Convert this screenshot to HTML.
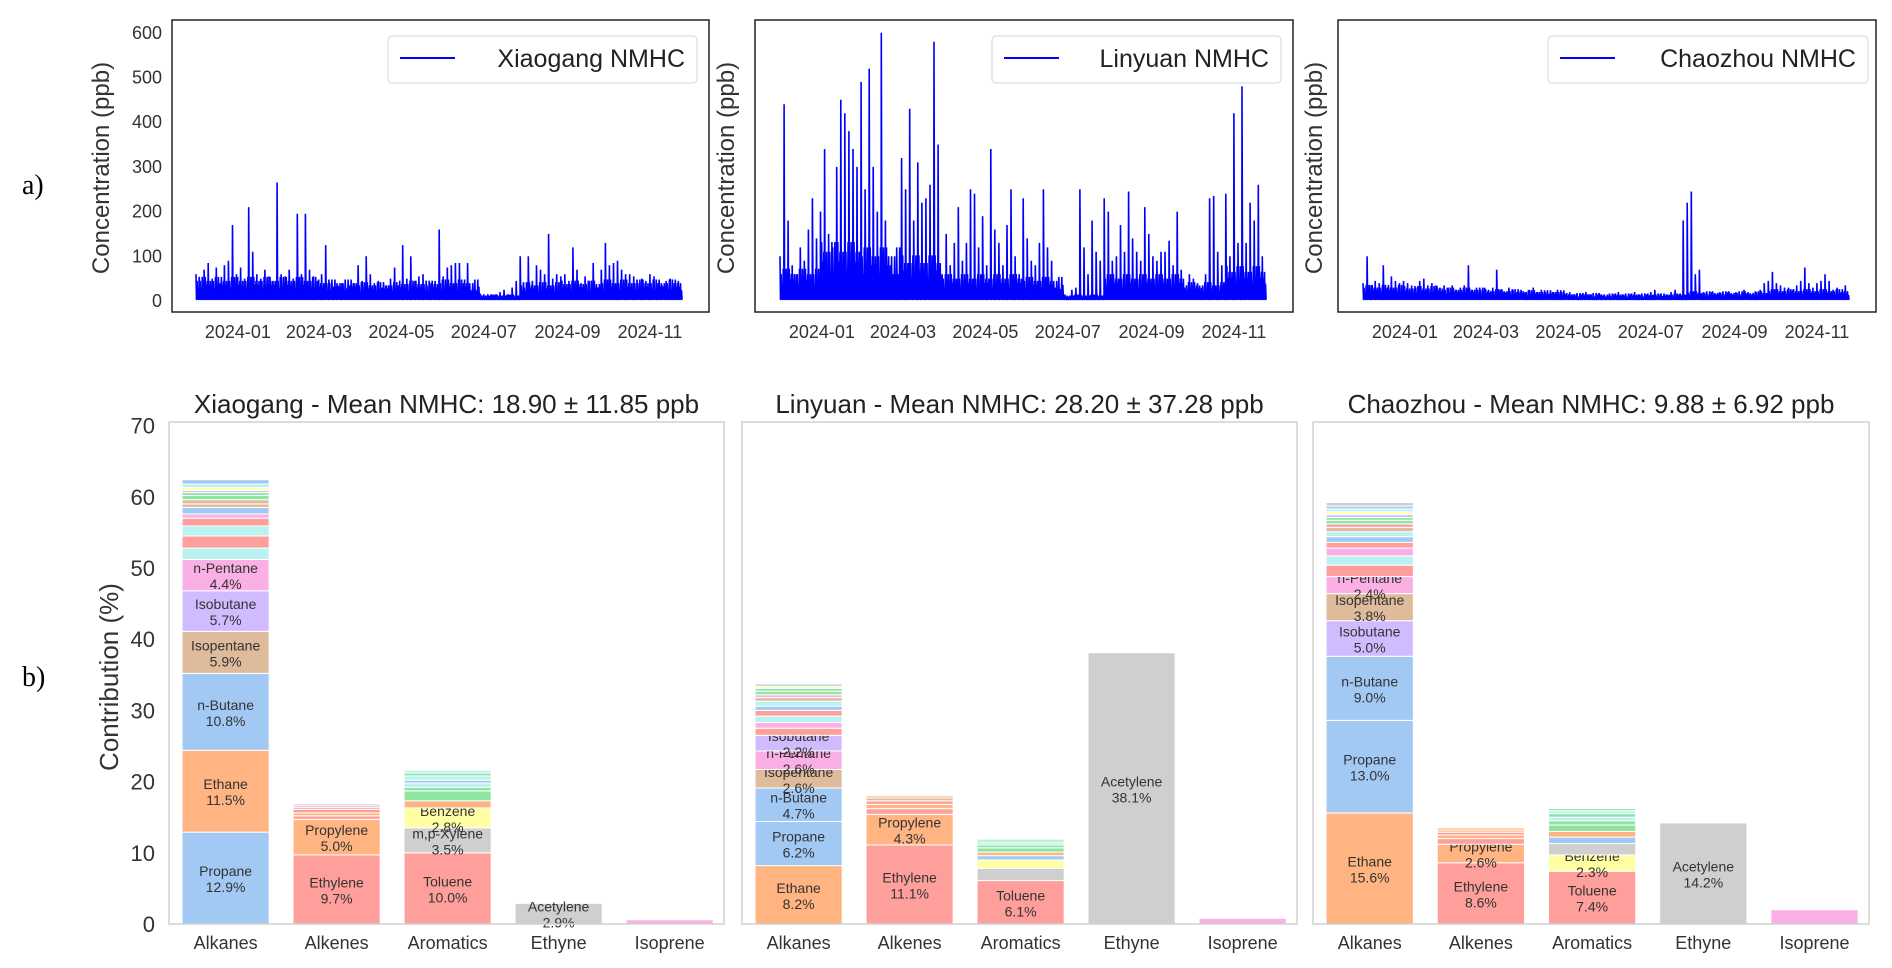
<!DOCTYPE html>
<html><head><meta charset="utf-8">
<style>
html,body{margin:0;padding:0;background:#fff;}
svg{display:block;font-family:"Liberation Sans",Arial,sans-serif;}
</style></head>
<body>
<svg id="fig" width="1892" height="968" viewBox="0 0 1892 968" xmlns="http://www.w3.org/2000/svg">
<text x="22" y="194" font-family="Liberation Serif,serif" font-size="28" fill="#000">a)</text>
<text x="22" y="686" font-family="Liberation Serif,serif" font-size="28" fill="#000">b)</text>
</svg>
<script>
// ---------- time series data (3-day peak values, ppb), Dec 2023 -> Nov 2024 ----------
const xgPeaks=[60,45,70,85,50,75,40,80,90,170, 60,75,50,210,110,60,50,70,55,45, 265,60,55,70,50,195,60,195,70,55, 45,60,125,40,30,35,40,30,35,40, 80,45,100,60,40,45,30,35,50,75, 35,125,50,100,45,55,60,35,40,45, 160,55,75,80,85,85,40,85,20,15, 18,15,15,15,15,20,25,15,30,45, 100,30,100,45,80,70,60,150,50,60, 55,60,45,120,70,40,55,45,85,30, 70,130,80,85,90,70,60,60,55,40, 50,45,60,55,40,35,45,50,40,45];
const lyPeaks=[100,440,180,80,60,120,90,160,230,140, 200,340,150,120,300,450,420,380,340,300, 490,250,520,300,200,600,180,50,40,60, 320,250,430,180,310,220,230,260,580,350, 60,150,80,130,210,90,130,250,240,120, 190,80,340,160,130,80,170,250,100,60, 230,140,90,80,130,250,120,90,30,20, 15,10,25,30,250,120,60,180,110,90, 230,200,90,100,170,110,245,140,110,90, 210,150,100,90,110,110,135,80,200,70, 10,60,50,40,30,60,230,235,110,80, 240,100,420,130,480,130,220,180,260,100];
const czPeaks=[40,100,35,45,40,80,30,55,45,40, 45,40,35,30,45,50,35,40,35,30, 35,30,35,25,30,35,80,25,30,25, 30,25,30,70,25,20,30,25,20,25, 20,25,30,20,25,20,15,20,25,20, 15,20,15,10,15,20,15,10,15,12, 10,12,15,20,15,10,15,20,15,10, 15,20,25,15,10,15,20,25,15,180, 220,245,60,70,20,15,20,15,20,15, 20,15,20,15,25,20,15,20,25,40, 45,65,40,35,30,30,25,35,45,75, 40,30,40,45,60,45,25,30,20,35];
// monthly typical (base) levels, Dec..Nov
const xgBase=[45,45,45,40,35,38,40,12,35,38,40,40];
const lyBase=[60,110,100,85,50,50,45,12,50,50,35,65];
const czBase=[30,28,25,22,20,15,14,14,18,18,22,22];
const yTicksTop=[0,100,200,300,400,500,600];
const xTickLabels=["2024-01","2024-03","2024-05","2024-07","2024-09","2024-11"];
const xTickDays=[31,91,152,213,275,336]; // days since 2023-12-01
const stationNames=["Xiaogang","Linyuan","Chaozhou"];

// ---------- composition data ----------
const categories=["Alkanes","Alkenes","Aromatics","Ethyne","Isoprene"];
const yTicksBottom=[0,10,20,30,40,50,60,70];
const means=["18.90 ± 11.85","28.20 ± 37.28","9.88 ± 6.92"];
const xgAlkVals=[12.9,11.5,10.8,5.9,5.7,4.4,1.6,1.7,1.4,1.1,0.6,0.9,0.5,0.6,0.6,0.4,0.3,0.4,0.5,0.6];
const xgAlkNames=["Propane","Ethane","n-Butane","Isopentane","Isobutane","n-Pentane"];
const xgAlkCols="BOBNPKCRCRKBNNGGPYCB";
const xgAleVals=[9.7,5.0,0.5,0.4,0.5,0.3,0.3,0.2];
const xgAleNames=["Ethylene","Propylene"];
const xgAleCols="ROROROPR";
const xgAroVals=[10.0,3.5,2.8,1.0,1.4,0.5,0.6,0.4,0.6,0.4,0.4];
const xgAroNames=["Toluene","m,p-Xylene","Benzene"];
const xgAroCols="RgYOGGCBCGC";
const xgEthVals=[2.9];const xgIsoVals=[0.6];

const lyAlkVals=[8.2,6.2,4.7,2.6,2.6,2.2,1.0,0.8,0.9,0.8,0.6,0.7,0.5,0.4,0.5,0.4,0.3,0.3];
const lyAlkNames=["Ethane","Propane","n-Butane","Isopentane","n-Pentane","Isobutane"];
const lyAlkCols="OBBNKPRKCRBCNKGGYB";
const lyAleVals=[11.1,4.3,0.8,0.6,0.5,0.4,0.3];
const lyAleNames=["Ethylene","Propylene"];
const lyAleCols="RORORNO";
const lyAroVals=[6.1,1.7,1.2,0.6,0.5,0.6,0.4,0.4,0.3,0.2];
const lyAroNames=["Toluene"];
const lyAroCols="RgYBOGGCGC";
const lyEthVals=[38.1];const lyIsoVals=[0.8];

const czAlkVals=[15.6,13.0,9.0,5.0,3.8,2.4,1.6,1.3,1.1,0.8,0.8,0.7,0.6,0.5,0.5,0.4,0.4,0.4,0.4,0.4,0.5];
const czAlkNames=["Ethane","Propane","n-Butane","Isobutane","Isopentane","n-Pentane"];
const czAlkCols="OBBPNKRCKRBCNRGGPYCBg";
const czAleVals=[8.6,2.6,0.8,0.5,0.4,0.3,0.3];
const czAleNames=["Ethylene","Propylene"];
const czAleCols="ROROROO";
const czAroVals=[7.4,2.3,1.6,0.9,0.8,0.9,0.6,0.5,0.5,0.4,0.3];
const czAroNames=["Toluene","Benzene"];
const czAroCols="RYgBOGGCGCG";
const czEthVals=[14.2];const czIsoVals=[2.0];

const palette={B:"#a1c9f4",O:"#ffb482",G:"#8de5a1",R:"#ff9f9b",P:"#d0bbff",N:"#debb9b",K:"#fab0e4",g:"#cfcfcf",Y:"#fffea3",C:"#b9f2f0"};

const NS="http://www.w3.org/2000/svg";
const svg=document.getElementById("fig");
function mk(tag,attrs,parent){const e=document.createElementNS(NS,tag);for(const k in attrs)e.setAttribute(k,attrs[k]);(parent||svg).appendChild(e);return e;}

// ---------- top panels ----------
const topPanels=[{x0:172,x1:709,day0:196,leg:[388,697],ylab:109},{x0:755,x1:1293,day0:780,leg:[992,1281],ylab:734},{x0:1338,x1:1876,day0:1363,leg:[1548,1868],ylab:1322}];
const peaksAll=[xgPeaks,lyPeaks,czPeaks];
const baseAll=[xgBase,lyBase,czBase];
const pxPerDay=1.351;
const mults=[1.0,0.6,1.2,0.8];
function yTop(v){return 301-v*0.447;}
topPanels.forEach((p,si)=>{
  const g=mk("g",{});
  
  
  const xDay=d=>p.day0+d*pxPerDay;
  const peaks=peaksAll[si], base=baseAll[si];
  let pts=[];
  const P=(d,v)=>pts.push(xDay(d).toFixed(1)+","+yTop(v).toFixed(1));
  peaks.forEach((v,i)=>{
    const d=i*3, b=base[Math.min(11,Math.floor(i/10))];
    const m1=mults[i%4], m2=mults[(i+1)%4], m3=mults[(i+2)%4];
    P(d,v);P(d+0.4,2);P(d+0.8,b*m1);P(d+1.2,3);P(d+1.6,b*m2);P(d+2.0,2);P(d+2.4,b*m3);P(d+2.8,3);
  });
  const line=mk("polyline",{points:pts.join(" "),fill:"none",stroke:"#0000ff","stroke-width":"1.6","stroke-linejoin":"miter"},g);
  
  
  const fr=mk("rect",{x:p.x0,y:20,width:p.x1-p.x0,height:292,fill:"none",stroke:"#222","stroke-width":"1.5"},g);
  
  
  if(si===0){
    yTicksTop.forEach(t=>{const tx=mk("text",{x:162,y:yTop(t)+6,"text-anchor":"end","font-size":"18",fill:"#333"},g);tx.textContent=t;
      
      });
  }
  xTickLabels.forEach((l,i)=>{const tx=mk("text",{x:xDay(xTickDays[i]),y:338,"text-anchor":"middle","font-size":"18",fill:"#333"},g);tx.textContent=l;
    
    });
  const yl=mk("text",{x:p.ylab,y:168,"text-anchor":"middle","font-size":"24",fill:"#333",transform:`rotate(-90 ${p.ylab} 168)`},g);
  yl.textContent="Concentration (ppb)";
  
  
  const lg=mk("g",{},g);
  
  
  mk("rect",{x:p.leg[0],y:36,width:p.leg[1]-p.leg[0],height:47,rx:4,fill:"#fff",stroke:"#ddd","stroke-width":"1.2"},lg);
  mk("line",{x1:p.leg[0]+12,x2:p.leg[0]+67,y1:58,y2:58,stroke:"#0000ff","stroke-width":"2"},lg);
  const lt=mk("text",{x:p.leg[1]-12,y:67,"text-anchor":"end","font-size":"25",fill:"#222"},lg);
  lt.textContent=stationNames[si]+" NMHC";
  
  
});

// ---------- bottom panels ----------
const botPanels=[{x0:169,x1:724},{x0:742,x1:1297},{x0:1313,x1:1869}];
const stationBars=[
 [[xgAlkVals,xgAlkNames,xgAlkCols],[xgAleVals,xgAleNames,xgAleCols],[xgAroVals,xgAroNames,xgAroCols],[xgEthVals,["Acetylene"],"g"],[xgIsoVals,[],"K"]],
 [[lyAlkVals,lyAlkNames,lyAlkCols],[lyAleVals,lyAleNames,lyAleCols],[lyAroVals,lyAroNames,lyAroCols],[lyEthVals,["Acetylene"],"g"],[lyIsoVals,[],"K"]],
 [[czAlkVals,czAlkNames,czAlkCols],[czAleVals,czAleNames,czAleCols],[czAroVals,czAroNames,czAroCols],[czEthVals,["Acetylene"],"g"],[czIsoVals,[],"K"]]
];
function yBot(v){return 924-v*7.12;}
botPanels.forEach((p,si)=>{
  const g=mk("g",{});
  
  
  const w=p.x1-p.x0;
  const slot=w*0.2, bw=w*0.157, off=w*0.0235;
  stationBars[si].forEach((bar,ci)=>{
    const [vals,names,cols]=bar;
    const bx=p.x0+off+ci*slot;
    let cum=0;
    vals.forEach((v,k)=>{
      const r=mk("rect",{x:bx,y:yBot(cum+v),width:bw,height:Math.max(0,yBot(cum)-yBot(cum+v)),fill:palette[cols[k]]||"#ccc",stroke:"#fff","stroke-width":"1"},g);
      
      
      if(v>2.0&&names[k]){
        const cy=(yBot(cum)+yBot(cum+v))/2;
        const t1=mk("text",{x:bx+bw/2,y:cy-2,"text-anchor":"middle","font-size":"14",fill:"#333"},g);t1.textContent=names[k];
        
        
        const t2=mk("text",{x:bx+bw/2,y:cy+14,"text-anchor":"middle","font-size":"14",fill:"#333"},g);t2.textContent=v.toFixed(1)+"%";
        
        
      }
      cum+=v;
    });
    const cl=mk("text",{x:bx+bw/2,y:949,"text-anchor":"middle","font-size":"18",fill:"#333"},g);cl.textContent=categories[ci];
    
    
  });
  const fr=mk("rect",{x:p.x0,y:422,width:w,height:502,fill:"none",stroke:"#d0d0d0","stroke-width":"1.5"},g);
  
  
  const tt=mk("text",{x:(p.x0+p.x1)/2,y:413,"text-anchor":"middle","font-size":"26",fill:"#222"},g);
  tt.textContent=stationNames[si]+" - Mean NMHC: "+means[si]+" ppb";
  
  
  if(si===0){
    yTicksBottom.forEach(t=>{const tx=mk("text",{x:155,y:yBot(t)+8,"text-anchor":"end","font-size":"22",fill:"#333"},g);tx.textContent=t;
      
      });
    const yl=mk("text",{x:118,y:677,"text-anchor":"middle","font-size":"26",fill:"#333",transform:"rotate(-90 118 677)"},g);
    yl.textContent="Contribution (%)";
    
    
  }
});
</script>
</body></html>
